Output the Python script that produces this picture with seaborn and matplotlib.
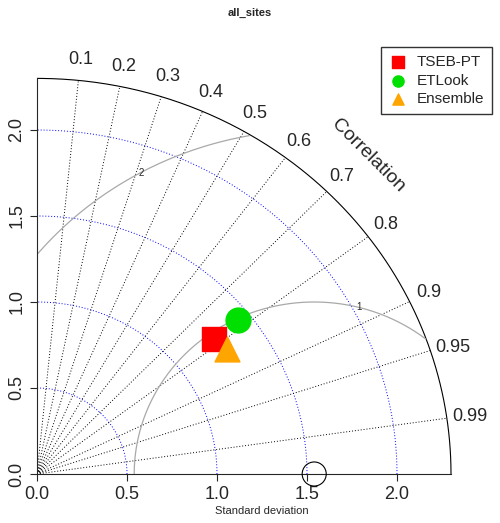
import numpy as np
import matplotlib
matplotlib.use("Agg")
import matplotlib.pyplot as plt
import seaborn as sns

sns.set_style("white")
plt.rcParams['font.family'] = ['Liberation Sans', 'DejaVu Sans']

models = ["TSEB-PT", "ETLook", "Ensemble"]
sd_x = [0.983, 1.117, 1.056]   # sd*cos
sd_y = [0.785, 0.895, 0.727]   # sd*sin
colors = ["red", "#00e000", "orange"]
markers = ["s", "o", "^"]
ref_sd = 1.54
sd_ticks = [0.0, 0.5, 1.0, 1.5, 2.0]
cor_ticks = [0.1, 0.2, 0.3, 0.4, 0.5, 0.6, 0.7, 0.8, 0.9, 0.95, 0.99]
rms_levels = [1, 2]
rmax = 2.3

fig = plt.figure(figsize=(5, 5.23), dpi=100)
ax = fig.add_axes([37/500, 49/523, 450/500, 430/523])
ax.set_xlim(0, 2.5)
ax.set_ylim(0, 2.5)

t = np.linspace(0, np.pi/2, 300)
for s in [0.5, 1.0, 1.5, 2.0]:
    ax.plot(s*np.cos(t), s*np.sin(t), color="blue", ls=(0, (1, 2)), lw=0.7)
ax.plot(rmax*np.cos(t), rmax*np.sin(t), color="black", lw=0.8)
for c in cor_ticks:
    a = np.arccos(c)
    ax.plot([0, rmax*np.cos(a)], [0, rmax*np.sin(a)], color="black", ls=(0, (1, 2)), lw=0.7)
    if c >= 0.95:
        ax.text(2.33*np.cos(a), 2.36*np.sin(a), f"{c:g}", fontsize=13, ha="left", va="center")
    else:
        ax.text(2.42*np.cos(a), 2.42*np.sin(a), f"{c:g}", fontsize=13, ha="center", va="center")
ax.text(1.84, 1.85, "Correlation", rotation=-45, fontsize=14, ha="center", va="center")
tt = np.linspace(0, np.pi, 600)
lab_ang = {1: 0.42*np.pi, 2: 0.66*np.pi}
for r in rms_levels:
    x = ref_sd + r*np.cos(tt)
    y = r*np.sin(tt)
    m = (x**2 + y**2 <= rmax**2) & (x >= 0)
    ax.plot(np.where(m, x, np.nan), np.where(m, y, np.nan), color="darkgray", lw=0.9)
    ang = lab_ang[r]
    ax.text(ref_sd + r*np.cos(ang), r*np.sin(ang), str(r), fontsize=7, ha="center", va="center")
ax.scatter([ref_sd], [0], s=300, facecolors="none", edgecolors="black", lw=0.8, clip_on=False, zorder=5)
for m, x, y, c, mk in zip(models, sd_x, sd_y, colors, markers):
    ax.scatter([x], [y], s=320, color=c, marker=mk, label=m, zorder=6)

sns.despine(ax=ax)
ax.spines['left'].set_bounds(0, rmax)
ax.spines['bottom'].set_bounds(0, rmax)
ax.set_xticks(sd_ticks)
ax.set_yticks(sd_ticks)
ax.set_xticklabels([f"{v:.1f}" for v in sd_ticks], fontsize=13)
ax.set_yticklabels([f"{v:.1f}" for v in sd_ticks], fontsize=13, rotation=90, va="center")
ax.tick_params(length=5, direction="out", left=True, bottom=True)
ax.set_xlabel("Standard deviation", fontsize=8, labelpad=2)
fig.text(0.5, 0.985, "all_sites", fontsize=8, fontweight="bold", ha="center", va="top")
ax.legend(loc="upper right", bbox_to_anchor=(1.027, 1.01), fontsize=11, frameon=True,
          fancybox=False, edgecolor="black", markerscale=0.45, handletextpad=0.6,
          borderpad=0.5, handlelength=1.2, labelspacing=0.3)
fig.savefig("out.png", dpi=100)
